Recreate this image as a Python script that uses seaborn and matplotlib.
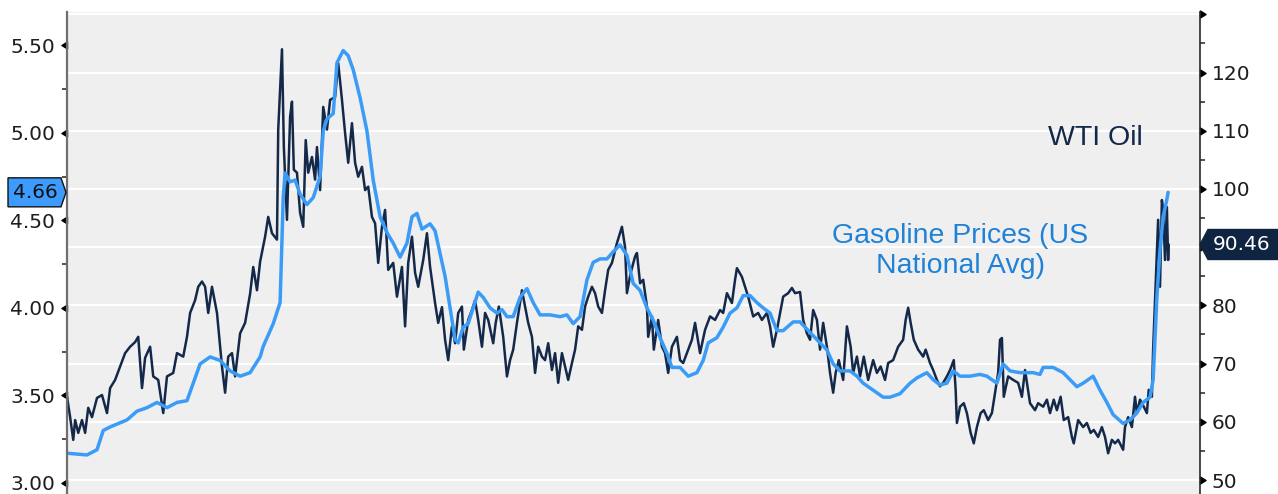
import numpy as np
import pandas as pd
import matplotlib
matplotlib.use("Agg")
import matplotlib.pyplot as plt
from matplotlib.path import Path
from matplotlib.markers import MarkerStyle
from matplotlib.patches import Polygon
from matplotlib.transforms import IdentityTransform
import seaborn as sns

# ---------------------------------------------------------------- data
START = "2021-03-29"

# US national average gasoline price ($/gal), day offsets from START
gas_days = [0, 32, 48, 58, 69, 96, 112, 128, 144, 160,
            176, 192, 202, 213, 229, 245, 261, 277, 293, 309,
            314, 330, 341, 346, 349, 357, 365, 373, 384, 394,
            405, 410, 416, 426, 432, 442, 450, 458, 469, 480,
            490, 501, 512, 522, 533, 544, 552, 560, 568, 581,
            589, 600, 605, 613, 621, 626, 634, 642, 650, 658,
            666, 677, 688, 696, 704, 714, 725, 736, 746, 757,
            773, 789, 800, 810, 821, 832, 842, 853, 864, 874,
            885, 896, 906, 917, 928, 938, 949, 960, 968, 981,
            994, 1008, 1018, 1026, 1040, 1050, 1061, 1072, 1082, 1093,
            1104, 1114, 1125, 1136, 1146, 1162, 1173, 1189, 1205, 1216,
            1226, 1237, 1253, 1264, 1274, 1290, 1306, 1317, 1333, 1349,
            1360, 1376, 1386, 1397, 1408, 1418, 1429, 1445, 1461, 1472,
            1488, 1498, 1509, 1525, 1546, 1557, 1562, 1578, 1594, 1605,
            1616, 1626, 1642, 1653, 1664, 1674, 1690, 1701, 1712, 1722,
            1733, 1738, 1741, 1744, 1749, 1754, 1760, 1762]
gas_price = [3.17, 3.16, 3.19, 3.30, 3.32, 3.36, 3.41, 3.43, 3.46, 3.43,
             3.46, 3.47, 3.57, 3.68, 3.72, 3.70, 3.64, 3.61, 3.63, 3.72,
             3.78, 3.91, 4.03, 4.63, 4.77, 4.72, 4.73, 4.65, 4.59, 4.63,
             4.75, 5.01, 5.08, 5.11, 5.40, 5.47, 5.44, 5.36, 5.20, 5.01,
             4.73, 4.52, 4.43, 4.37, 4.29, 4.37, 4.52, 4.54, 4.45, 4.48,
             4.44, 4.26, 4.18, 4.00, 3.82, 3.80, 3.89, 3.91, 4.00, 4.09,
             4.06, 4.00, 3.97, 3.99, 3.95, 3.95, 4.06, 4.11, 4.03, 3.96,
             3.96, 3.95, 3.96, 3.91, 3.95, 4.16, 4.26, 4.28, 4.28, 4.32,
             4.36, 4.30, 4.14, 4.10, 4.00, 3.93, 3.83, 3.74, 3.66, 3.66,
             3.61, 3.63, 3.70, 3.80, 3.83, 3.89, 3.97, 4.00, 4.07, 4.07,
             4.03, 4.00, 3.97, 3.87, 3.87, 3.92, 3.92, 3.86, 3.80, 3.76,
             3.68, 3.64, 3.64, 3.61, 3.57, 3.53, 3.49, 3.49, 3.51, 3.57,
             3.60, 3.63, 3.59, 3.56, 3.57, 3.64, 3.61, 3.61, 3.62, 3.61,
             3.57, 3.68, 3.64, 3.63, 3.63, 3.62, 3.66, 3.66, 3.63, 3.59,
             3.55, 3.57, 3.61, 3.53, 3.46, 3.39, 3.34, 3.36, 3.40, 3.46,
             3.49, 3.59, 3.82, 4.06, 4.33, 4.52, 4.62, 4.66]

# WTI crude ($/bbl), day offsets from START
wti_days = [0, 5, 10, 13, 18, 24, 29, 34, 40, 48,
            56, 64, 69, 77, 85, 93, 101, 109, 114, 120,
            125, 133, 138, 146, 154, 160, 170, 176, 186, 192,
            197, 205, 210, 216, 221, 226, 232, 240, 248, 253,
            258, 264, 269, 277, 285, 293, 298, 304, 309, 317,
            322, 328, 336, 338, 344, 347, 352, 357, 360, 363,
            368, 373, 378, 382, 386, 392, 397, 400, 405, 410,
            416, 421, 429, 434, 440, 445, 450, 456, 461, 466,
            472, 477, 482, 488, 493, 498, 504, 509, 514, 522,
            528, 536, 541, 546, 552, 557, 562, 570, 576, 581,
            589, 594, 600, 605, 610, 616, 621, 626, 632, 635,
            642, 648, 653, 658, 664, 669, 674, 682, 686, 691,
            698, 704, 709, 714, 720, 728, 733, 738, 744, 749,
            754, 760, 765, 770, 776, 781, 786, 792, 797, 802,
            808, 813, 818, 824, 829, 834, 840, 845, 850, 856,
            861, 866, 872, 880, 888, 893, 896, 902, 909, 912,
            917, 922, 928, 930, 936, 939, 946, 952, 957, 962,
            968, 976, 981, 986, 992, 1000, 1005, 1013, 1021, 1029,
            1037, 1045, 1050, 1056, 1064, 1069, 1072, 1080, 1085, 1090,
            1098, 1106, 1112, 1120, 1125, 1130, 1136, 1141, 1146, 1154,
            1160, 1165, 1173, 1178, 1184, 1189, 1194, 1200, 1205, 1210,
            1216, 1221, 1226, 1230, 1235, 1242, 1248, 1254, 1258, 1264,
            1269, 1275, 1282, 1290, 1296, 1302, 1309, 1314, 1322, 1330,
            1338, 1342, 1346, 1350, 1355, 1362, 1370, 1374, 1381, 1386,
            1392, 1397, 1402, 1408, 1413, 1419, 1422, 1424, 1429, 1435,
            1440, 1446, 1451, 1456, 1462, 1467, 1474, 1480, 1485, 1490,
            1493, 1496, 1499, 1506, 1514, 1522, 1528, 1533, 1541, 1549,
            1554, 1562, 1568, 1573, 1579, 1584, 1590, 1595, 1602, 1608,
            1611, 1618, 1626, 1632, 1638, 1643, 1650, 1656, 1661, 1666,
            1672, 1677, 1682, 1690, 1693, 1698, 1704, 1709, 1712, 1717,
            1723, 1728, 1731, 1736, 1738, 1742, 1746, 1749, 1752, 1754,
            1757, 1760, 1762, 1763]
wti_price = [64.3, 60.8, 56.9, 60.3, 58.1, 60.3, 58.1, 62.4, 60.8, 64.1,
             64.6, 61.5, 65.8, 67.2, 69.5, 71.8, 72.9, 73.7, 74.6, 65.8,
             71.0, 72.9, 67.8, 67.2, 61.5, 67.8, 68.4, 71.8, 71.2, 74.6,
             78.7, 80.9, 83.2, 84.1, 83.2, 78.7, 83.2, 78.7, 69.5, 65.0,
             71.2, 71.8, 67.8, 75.2, 77.0, 82.0, 86.6, 82.6, 87.5, 91.8,
             95.2, 92.4, 91.3, 110.2, 124.0, 107.2, 94.7, 112.4, 115.0, 103.3,
             102.8, 95.9, 93.5, 108.4, 102.8, 105.5, 101.6, 107.2, 99.8, 114.1,
             110.2, 115.3, 115.8, 121.6, 115.3, 109.6, 104.5, 111.3, 104.5, 102.1,
             103.8, 99.8, 100.4, 95.2, 94.1, 87.3, 93.5, 96.4, 86.1, 87.3,
             81.5, 86.6, 76.4, 87.3, 91.8, 85.6, 83.2, 87.8, 92.4, 86.6,
             80.4, 77.0, 79.7, 74.1, 70.6, 76.4, 73.5, 78.7, 79.8, 72.4,
             77.5, 79.2, 80.9, 77.5, 72.9, 78.7, 77.5, 73.5, 77.0, 79.8,
             74.6, 67.8, 70.6, 72.4, 77.0, 82.6, 79.8, 77.0, 74.6, 68.4,
             72.9, 71.2, 70.6, 73.5, 68.9, 71.8, 66.7, 71.8, 69.5, 67.2,
             70.1, 72.4, 76.4, 75.8, 79.8, 81.5, 83.2, 82.1, 79.8, 78.7,
             82.6, 86.1, 87.3, 90.7, 93.5, 90.0, 82.1, 85.6, 88.4, 89.0,
             83.8, 84.4, 79.8, 74.6, 78.1, 72.4, 77.5, 72.9, 71.8, 68.4,
             72.9, 74.6, 70.6, 70.1, 71.8, 74.1, 77.0, 71.8, 75.8, 78.1,
             77.5, 79.2, 78.7, 82.1, 80.4, 84.4, 86.4, 84.9, 83.2, 81.5,
             78.1, 78.7, 77.5, 78.7, 76.4, 72.9, 75.8, 78.7, 81.5, 82.1,
             83.0, 82.1, 82.3, 77.5, 75.2, 74.1, 79.2, 77.5, 72.4, 77.0,
             72.9, 68.4, 65.0, 68.4, 70.6, 67.2, 76.4, 72.9, 68.4, 71.2,
             67.8, 71.2, 67.2, 70.6, 68.4, 69.5, 67.2, 70.1, 70.6, 72.9,
             74.1, 77.5, 79.6, 77.0, 74.1, 72.4, 71.2, 72.4, 70.1, 68.9,
             67.2, 66.1, 66.7, 67.8, 68.9, 70.6, 65.5, 59.8, 62.6, 63.2,
             61.5, 58.1, 56.3, 59.1, 61.5, 62.0, 60.3, 61.5, 65.0, 68.4,
             74.1, 74.4, 64.3, 67.8, 67.2, 66.7, 64.3, 68.9, 63.2, 62.0,
             63.2, 62.6, 63.8, 61.5, 63.8, 62.0, 64.3, 60.3, 60.8, 57.4,
             56.3, 60.3, 59.1, 59.8, 58.1, 58.6, 57.4, 59.1, 57.4, 54.6,
             56.9, 56.3, 56.9, 55.2, 59.1, 60.8, 59.1, 64.3, 61.5, 63.8,
             62.6, 61.5, 65.5, 64.3, 72.4, 83.8, 94.7, 83.2, 98.1, 96.4,
             87.8, 96.9, 87.8, 90.46]

gas_ticks = [3.00, 3.50, 4.00, 4.50, 5.00, 5.50]
gas_minor = [3.25, 3.75, 4.25, 4.75, 5.25]
wti_ticks = [50, 60, 70, 80, 90, 100, 110, 120, 130]
# the 90 level sits under the last-value tag, 130 at the top edge
wti_tick_labels = ["50", "60", "70", "80", "", "100", "110", "120", ""]
wti_minor = [55, 65, 75, 85, 95, 105, 115, 125]

gas_label = "Gasoline Prices (US\nNational Avg)"
wti_label = "WTI Oil"

# ---------------------------------------------------------------- style
GAS_BLUE = "#3b9cf7"
WTI_NAVY = "#14294a"
PANEL = "#efefef"
TICK_TXT = "#1e1e1e"

sns.set_theme(style="white", rc={"axes.facecolor": PANEL})
plt.rcParams["font.family"] = ["DejaVu Sans"]

start = pd.Timestamp(START)
gas = pd.DataFrame({"date": start + pd.to_timedelta(gas_days, unit="D"),
                    "price": gas_price})
wti = pd.DataFrame({"date": start + pd.to_timedelta(wti_days, unit="D"),
                    "price": wti_price})

W, H = 1278, 494
fig = plt.figure(figsize=(W / 100, H / 100), dpi=100)
fig.patch.set_facecolor("white")

L, R, T = 67, 1200, 12
ax = fig.add_axes([L / W, 0, (R - L) / W, (H - T) / H])   # gasoline, left scale
ax2 = ax.twinx()                                         # WTI, right scale

# gasoline drawn above the oil line; the right-hand axes carries panel + grid
ax.set_zorder(3)
ax2.set_zorder(2)
ax.patch.set_visible(False)
ax2.patch.set_visible(True)
ax2.patch.set_facecolor(PANEL)

sns.lineplot(data=wti, x="date", y="price", ax=ax2, color=WTI_NAVY,
             linewidth=1.8, errorbar=None)
sns.lineplot(data=gas, x="date", y="price", ax=ax, color=GAS_BLUE,
             linewidth=2.5, errorbar=None)

ax.set_xlim(start, start + pd.Timedelta(days=1813))
ax.set_ylim(2.937, 5.69)
ax2.set_ylim(47.6, 130.4)

for a in (ax, ax2):
    a.set_xlabel("")
    a.set_ylabel("")
    a.xaxis.set_visible(False)
    for s in a.spines.values():
        s.set_visible(False)

ax.spines["left"].set_visible(True)
ax.spines["left"].set_color("#6f6f6f")
ax.spines["left"].set_linewidth(1.6)
ax2.spines["right"].set_visible(True)
ax2.spines["right"].set_color("#2a2a2a")
ax2.spines["right"].set_linewidth(1.2)

ax.grid(False)
ax2.grid(False)
ax2.yaxis.grid(True, color="white", linewidth=1.6)

# ticks: labels with triangle markers on majors, short dashes on minors
ax.set_yticks(gas_ticks)
ax.set_yticklabels([f"{v:.2f}" for v in gas_ticks])
ax.set_yticks(gas_minor, minor=True)
ax2.set_yticks(wti_ticks)
ax2.set_yticklabels(wti_tick_labels)
ax2.set_yticks(wti_minor, minor=True)

ax.tick_params(axis="y", which="major", left=True, length=0, pad=8.5,
               labelsize=14.5, labelcolor=TICK_TXT)
ax.tick_params(axis="y", which="minor", left=True, length=3.5, width=1.1,
               color="#222222", direction="out")
ax2.tick_params(axis="y", which="major", right=True, length=0, pad=8.5,
                labelsize=14.5, labelcolor=TICK_TXT)
ax2.tick_params(axis="y", which="minor", right=True, length=3.5, width=1.1,
                color="#222222", direction="out")

tri_left = MarkerStyle(Path([(0, -0.62), (-1, 0), (0, 0.62), (0, -0.62)],
                            [Path.MOVETO, Path.LINETO, Path.LINETO, Path.CLOSEPOLY]))
tri_right = MarkerStyle(Path([(0, -0.62), (1, 0), (0, 0.62), (0, -0.62)],
                             [Path.MOVETO, Path.LINETO, Path.LINETO, Path.CLOSEPOLY]))
ax.plot(np.zeros(len(gas_ticks)), gas_ticks, transform=ax.get_yaxis_transform(),
        linestyle="none", marker=tri_left, markersize=8, color="black",
        clip_on=False)
ax2.plot(np.ones(len(wti_ticks)), wti_ticks, transform=ax2.get_yaxis_transform(),
         linestyle="none", marker=tri_right, markersize=8, color="black",
         clip_on=False)

# last-value tags on both axes
ident = IdentityTransform()
_, yg = ax.get_yaxis_transform().transform((0, gas_price[-1]))
hg = 14.5
fig.add_artist(Polygon([(8, yg - hg), (61, yg - hg), (66, yg), (61, yg + hg), (8, yg + hg)],
                       closed=True, facecolor="#3d9bfd", edgecolor="#111111",
                       linewidth=1.0, transform=ident, zorder=10))
fig.text(35 / W, yg / H, f"{gas_price[-1]:.2f}", ha="center", va="center",
         fontsize=14.5, color="#111111", zorder=11)

_, yw = ax2.get_yaxis_transform().transform((1, wti_price[-1]))
hw = 15
fig.add_artist(Polygon([(1200, yw), (1208, yw + hw), (1280, yw + hw), (1280, yw - hw),
                        (1208, yw - hw)],
                       closed=True, facecolor="#0f2440", edgecolor="#0f2440",
                       linewidth=1.0, transform=ident, zorder=10))
fig.text(1242 / W, yw / H, f"{wti_price[-1]:.2f}", ha="center", va="center",
         fontsize=14.5, color="white", zorder=11)

# series captions
fig.text(1095 / W, 1 - 138 / H, wti_label, ha="center", va="center",
         fontsize=20.5, color=WTI_NAVY, family=["Liberation Sans", "DejaVu Sans"])
fig.text(960 / W, 1 - 251 / H, gas_label, ha="center", va="center",
         fontsize=20.5, color="#1f82d6", linespacing=1.2,
         family=["Liberation Sans", "DejaVu Sans"])

fig.savefig("out.png", dpi=100, facecolor="white")
